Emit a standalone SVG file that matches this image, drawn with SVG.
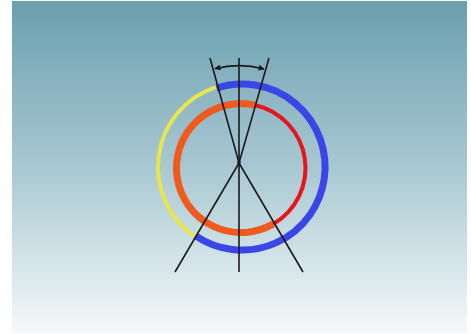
<svg xmlns="http://www.w3.org/2000/svg" width="471" height="334" viewBox="0 0 471 334">
  <defs>
    <linearGradient id="bg" x1="0" y1="0" x2="0" y2="1">
      <stop offset="0" stop-color="#6a9fae"/>
      <stop offset="0.5" stop-color="#a8c8d2"/>
      <stop offset="1" stop-color="#f6f9fa"/>
    </linearGradient>
    <marker id="ah" viewBox="0 0 10 10" refX="9" refY="5" markerWidth="6" markerHeight="6" markerUnits="userSpaceOnUse" orient="auto-start-reverse">
      <path d="M0 0 L10 5 L0 10 z" fill="#1a1a1a"/>
    </marker>
    <style>
      .ln { stroke: #1a1a1a; stroke-width: 1.6; fill: none; }
      .ring { fill: none; stroke-linecap: butt; }
    </style>
  </defs>
  <rect x="0" y="0" width="471" height="334" fill="#ffffff"/>
  <rect x="12" y="1" width="455" height="332" fill="url(#bg)"/>

  <g id="outer-ring">
    <path class="ring" d="M216.4 88.1 A83 83 0 1 1 195.6 235.8" stroke="#3a46e6" stroke-width="7"/>
    <path class="ring" d="M195.0 236.6 A84 84 0 0 1 216.0 87.1" stroke="#e8e64c" stroke-width="4"/>
  </g>
  <g id="inner-ring">
    <path class="ring" d="M273.25 223.9 A64.5 64.5 0 1 1 255.5 105.2" stroke="#f05a1e" stroke-width="7"/>
    <path class="ring" d="M255.5 105.2 A64.5 64.5 0 0 1 273.25 223.9" stroke="#e8141e" stroke-width="4"/>
  </g>

  <g id="connectors">
    <line class="ln" x1="239" y1="58" x2="239" y2="272"/>
    <line class="ln" x1="210" y1="58" x2="239" y2="163"/>
    <line class="ln" x1="269" y1="58" x2="239" y2="163"/>
    <line class="ln" x1="239" y1="163" x2="175" y2="272"/>
    <line class="ln" x1="239" y1="163" x2="303" y2="272"/>
    <path class="ln" d="M215 68.7 A97.3 97.3 0 0 1 264 69" marker-start="url(#ah)" marker-end="url(#ah)"/>
  </g>
  <g id="center">
    <circle cx="239" cy="162.5" r="1.8" fill="#1a1a1a"/>
  </g>
</svg>
